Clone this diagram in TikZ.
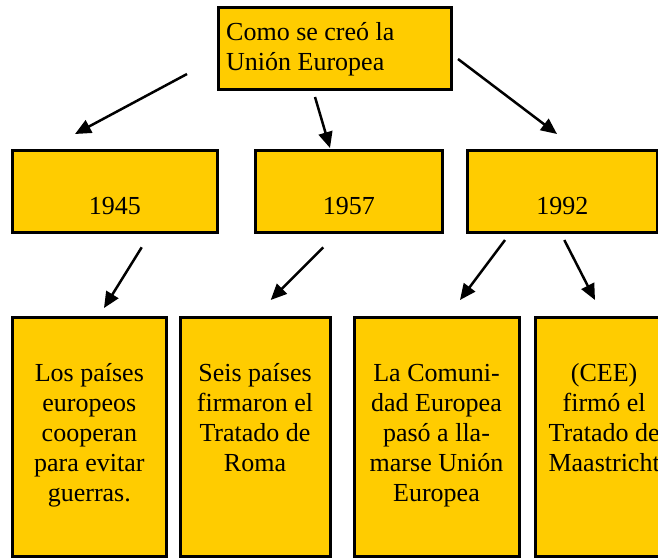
\documentclass[tikz,border=0pt]{standalone}
\usepackage{fontspec}
\setmainfont{Liberation Serif}
\usetikzlibrary{arrows.meta}
\definecolor{boxyellow}{HTML}{FFCC00}
\begin{document}
\begin{tikzpicture}[x=1pt,y=-1pt,
  box/.style={draw=black,line width=3pt,fill=boxyellow,inner sep=0pt,outer sep=0pt},
  txt/.style={font=\fontsize{26}{30}\selectfont,inner sep=0pt,align=center},
  arr/.style={-{Triangle[length=16pt,width=14pt]},line width=2.5pt}]
\useasboundingbox (0,0) rectangle (658,558);
\clip (0,0) rectangle (658,558);
% boxes
\node[box,minimum width=233pt,minimum height=82pt] (top) at (334.5,48) {};
\node[box,minimum width=204.3pt,minimum height=82.7pt] (m1) at (114.85,191.35) {};
\node[box,minimum width=187.7pt,minimum height=82.7pt] (m2) at (348.85,191.35) {};
\node[box,minimum width=190pt,minimum height=82.7pt] (m3) at (562.3,191.35) {};
\node[box,minimum width=153.3pt,minimum height=239.7pt] (b1) at (89.35,436.85) {};
\node[box,minimum width=150pt,minimum height=239.7pt] (b2) at (255,436.85) {};
\node[box,minimum width=165pt,minimum height=239.7pt] (b3) at (436.5,436.85) {};
\node[box,minimum width=137.7pt,minimum height=239.7pt] (b4) at (604.15,436.85) {};
% texts
\node[txt,align=left,anchor=north west] (ttop) at (226,19.7) {\strut Como se creó la\\Unión Europea};
\node[txt,anchor=base] (t1) at (114.85,214) {1945};
\node[txt,anchor=base] (t2) at (348.85,214) {1957};
\node[txt,anchor=base] (t3) at (562.3,214) {1992};
\node[txt,anchor=north] (tb1) at (89.35,360.5) {\strut Los países\\europeos\\cooperan\\para evitar\\guerras.};
\node[txt,anchor=north] (tb2) at (255,360.5) {\strut Seis países\\firmaron el\\Tratado de\\Roma};
\node[txt,anchor=north] (tb3) at (436.5,360.5) {\strut La Comuni-\\dad Europea\\pasó a lla-\\marse Unión\\Europea};
\node[txt,anchor=north] (tb4) at (604.15,360.5) {\strut (CEE)\\firmó el\\Tratado de\\Maastricht};
% arrow end points
\coordinate (a1s) at (187,74);   \coordinate (a1e) at (75,134);
\coordinate (a2s) at (315,97);   \coordinate (a2e) at (330,148);
\coordinate (a3s) at (458,59);   \coordinate (a3e) at (557,134);
\coordinate (a4s) at (141.7,247.3); \coordinate (a4e) at (104,308);
\coordinate (a5s) at (323.3,247.3); \coordinate (a5e) at (270.7,300);
\coordinate (a6s) at (505,240);  \coordinate (a6e) at (460,300);
\coordinate (a7s) at (564.3,240); \coordinate (a7e) at (595,300);
\draw[arr] (a1s) -- (a1e);
\draw[arr] (a2s) -- (a2e);
\draw[arr] (a3s) -- (a3e);
\draw[arr] (a4s) -- (a4e);
\draw[arr] (a5s) -- (a5e);
\draw[arr] (a6s) -- (a6e);
\draw[arr] (a7s) -- (a7e);
\end{tikzpicture}
\end{document}
